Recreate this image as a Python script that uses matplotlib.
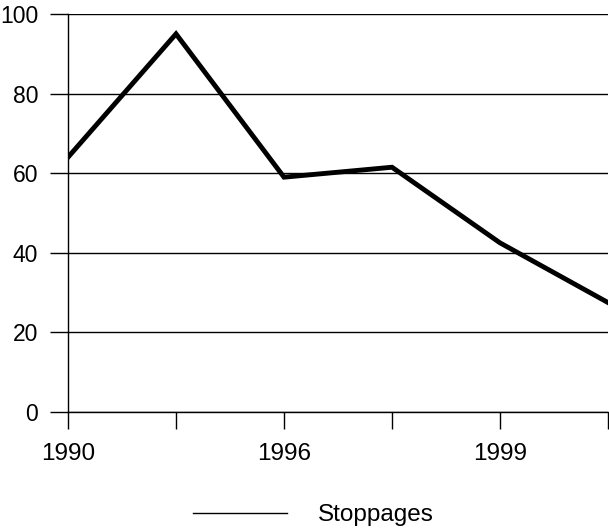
import matplotlib.pyplot as plt
from matplotlib.lines import Line2D

# ── data ────────────────────────────────────────────────────────────────
years = ["1990", "1993", "1996", "1998", "1999", "2000"]
stoppages = [64, 95, 59, 61.5, 42.5, 27.5]
y_ticks = [0, 20, 40, 60, 80, 100]

plt.rcParams["font.family"] = ["Liberation Sans", "DejaVu Sans"]


def main() -> None:
    fig = plt.figure(figsize=(6.09, 5.31), dpi=100)
    ax = fig.add_axes([68 / 609, 119 / 531, 540 / 609, 398 / 531])

    x = list(range(len(years)))
    ax.plot(x, stoppages, color="black", linewidth=3.5, solid_joinstyle="miter")

    ax.set_xlim(0, len(years) - 1)
    ax.set_ylim(0, 100)

    # every other year gets a label
    ax.set_xticks(x)
    ax.set_xticklabels([y if i % 2 == 0 else "" for i, y in enumerate(years)])
    ax.set_yticks(y_ticks)

    ax.grid(axis="y", color="black", linewidth=1)
    ax.set_axisbelow(True)
    for side in ("top", "right"):
        ax.spines[side].set_visible(False)
    for side in ("left", "bottom"):
        ax.spines[side].set_linewidth(1)

    ax.tick_params(axis="y", length=13, width=1, labelsize=16.5, pad=8.5)
    ax.tick_params(axis="x", length=12, width=1, labelsize=17.5, pad=10.5)

    handle = Line2D([], [], color="black", linewidth=1)
    fig.legend(
        [handle], ["Stoppages"],
        loc="center", bbox_to_anchor=(313.5 / 609, 1 - 515 / 531),
        frameon=False, fontsize=17.5, handlelength=3.85, handletextpad=1.3,
    )

    fig.savefig("out.png", dpi=100)


if __name__ == "__main__":
    main()
